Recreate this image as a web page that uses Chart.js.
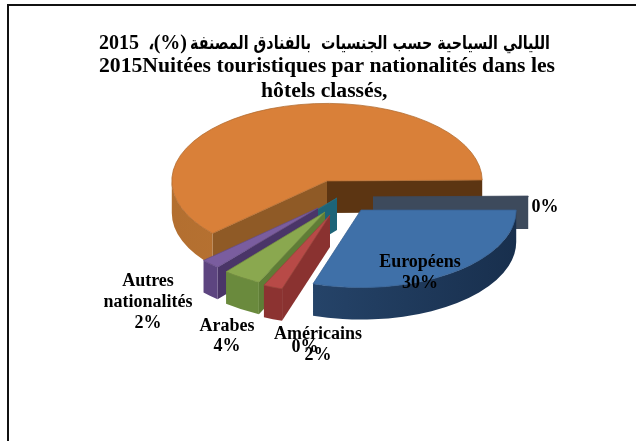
<!DOCTYPE html>
<html>
<head>
<meta charset="utf-8">
<title>Nuitées touristiques</title>
<script src="https://cdn.jsdelivr.net/npm/chart.js@4/dist/chart.umd.js"></script>
<style>
    html, body { margin: 0; padding: 0; background: #fff; }
    #wrap { position: relative; width: 636px; height: 441px; overflow: hidden; }
    #frame { position: absolute; left: 7px; top: 4px; width: 640px; height: 460px; border: 2px solid #111; box-sizing: border-box; }
    canvas { position: absolute; left: 0; top: 0; }
</style>
</head>
<body>
<div id="wrap">
    <div id="frame"></div>
    <canvas id="chart" width="636" height="441"></canvas>
</div>
<script>
// ============================================
// DATA
// ============================================
const categories = ['Européens', 'Américains', 'Arabes', '', 'Autres nationalités', '', ''];
const values = [30, 2, 4, 0.2, 2, 61.6, 0.2];

// first title line is mixed script, it gets drawn in three pieces by arabicTitle
const titleArabic = 'الليالي السياحية حسب الجنسيات  بالفنادق المصنفة';
const titleSign = '(%)،';
const titleYear = '2015';
const titleLines = [
    ' ',
    '2015Nuitées touristiques par nationalités dans les',
    'hôtels classés, '
];

// label texts, with the spot each block of text is centred on
const labelLines = [
    ['Européens', '30%'],
    ['0%'],
    ['Autres', 'nationalités', '2%'],
    ['Arabes', '4%'],
    ['Américains', '2%'],
    ['0%']
];
const labelSpots = [[420, 262, 21], [545, 207, 0], [148, 281, 21], [227, 326, 20], [318, 334, 21], [305, 347, 0]];

// ============================================
// 3D LOOK
// ============================================
const pieCenter = { x: 327, y: 181 };
const squash = 0.5;
const depth = 32;
const explodeX = [34, 3, -2, 10, -9, 0, 46];
const explodeY = [29, 34, 31, 17, 27, 0, 16];
const paintOrder = [5, 6, 3, 4, 2, 1, 0];

const topColors = ['#3f70a8', '#b84a47', '#8aa84f', '#2f8098', '#7a5d9f', '#d98039', '#3d4a5c'];
const edgeColors = ['#365f90', '#9c3f3c', '#75903f', '#266c80', '#664d87', '#b06a2e', '#3d4a5c'];
const curveLeft = ['#2c4e77', '#8c3331', '#6a8a3d', '#1d6a7d', '#5d4580', '#b36f30', '#3d4a5c'];
const curveRight = ['#182f4d', '#8c3331', '#6a8a3d', '#1d6a7d', '#5d4580', '#c27a35', '#3d4a5c'];
const startWall = ['#1f3a5c', '#8a3230', '#5f7d36', '#1d6478', '#4a3568', '#8f5a26', '#3d4a5c'];
const endWall = ['#1f3a5c', '#8a3230', '#5f7d36', '#1d6478', '#4a3568', '#5c3512', '#3d4a5c'];

// ============================================
// PLUGINS
// ============================================
function drawWall(ctx, x, y, radius, angle, color) {
    const ex = x + Math.cos(angle) * radius;
    const ey = y + Math.sin(angle) * radius * squash;
    ctx.fillStyle = color;
    ctx.beginPath();
    ctx.moveTo(x, y);
    ctx.lineTo(ex, ey);
    ctx.lineTo(ex, ey + depth);
    ctx.lineTo(x, y + depth);
    ctx.closePath();
    ctx.fill();
}

function drawCurve(ctx, x, y, radius, a0, a1, colorA, colorB) {
    // only the front half of the rim can be seen
    const from = Math.max(a0, 0);
    const to = Math.min(a1, Math.PI);
    if (to <= from) return;
    const gradient = ctx.createLinearGradient(x - radius, 0, x + radius, 0);
    gradient.addColorStop(0, colorA);
    gradient.addColorStop(1, colorB);
    ctx.fillStyle = gradient;
    ctx.beginPath();
    ctx.ellipse(x, y, radius, radius * squash, 0, from, to);
    ctx.ellipse(x, y + depth, radius, radius * squash, 0, to, from, true);
    ctx.closePath();
    ctx.fill();
}

const solidPie = {
    id: 'solidPie',
    beforeDatasetsDraw(chart) {
        const ctx = chart.ctx;
        const arcs = chart.getDatasetMeta(0).data;

        paintOrder.forEach(function (i) {
            const arc = arcs[i];
            const x = pieCenter.x + explodeX[i];
            const y = pieCenter.y + explodeY[i];
            const r = arc.outerRadius;

            if (-Math.cos(arc.startAngle) > 0) drawWall(ctx, x, y, r, arc.startAngle, startWall[i]);
            if (Math.cos(arc.endAngle) > 0) drawWall(ctx, x, y, r, arc.endAngle, endWall[i]);
            drawCurve(ctx, x, y, r, arc.startAngle, arc.endAngle, curveLeft[i], curveRight[i]);

            ctx.save();
            ctx.translate(x, y);
            ctx.scale(1, squash);
            ctx.translate(-arc.x, -arc.y);
            arc.draw(ctx);
            ctx.restore();
        });
        return false;
    }
};

const arabicTitle = {
    id: 'arabicTitle',
    afterDraw(chart) {
        const ctx = chart.ctx;
        ctx.save();
        ctx.fillStyle = '#000';
        ctx.textBaseline = 'alphabetic';

        ctx.font = 'bold 20px "Liberation Serif"';
        ctx.textAlign = 'left';
        ctx.fillText(titleYear, 99, 49);

        ctx.direction = 'rtl';
        ctx.textAlign = 'right';
        ctx.fillText(titleSign, 187, 49);

        // squeezed to the width the Arabic takes in the original
        ctx.font = 'bold 18.5px "DejaVu Sans"';
        ctx.fillText(titleArabic, 550, 49, 360);
        ctx.restore();
    }
};

const sliceLabels = {
    id: 'sliceLabels',
    afterDraw(chart) {
        const ctx = chart.ctx;
        ctx.save();
        ctx.fillStyle = '#000';
        ctx.font = 'bold 18px "Liberation Serif"';
        ctx.textAlign = 'center';
        ctx.textBaseline = 'middle';
        labelLines.forEach(function (lines, i) {
            const spot = labelSpots[i];
            lines.forEach(function (line, n) {
                ctx.fillText(line, spot[0], spot[1] + n * spot[2]);
            });
        });
        ctx.restore();
    }
};

// ============================================
// CHART
// ============================================
new Chart(document.getElementById('chart'), {
    type: 'pie',
    data: {
        labels: categories,
        datasets: [{
            data: values,
            backgroundColor: topColors,
            borderColor: edgeColors,
            borderWidth: 1
        }]
    },
    options: {
        responsive: false,
        animation: false,
        rotation: 90,
        layout: { padding: { left: 18, right: 0, top: 30, bottom: 26 } },
        plugins: {
            legend: { display: false },
            tooltip: { enabled: false },
            title: {
                display: true,
                text: titleLines,
                color: '#000',
                font: { family: '"Liberation Serif"', size: 21.7, weight: 'bold', lineHeight: 1.13 },
                padding: 0
            }
        }
    },
    plugins: [solidPie, arabicTitle, sliceLabels]
});
</script>
</body>
</html>
